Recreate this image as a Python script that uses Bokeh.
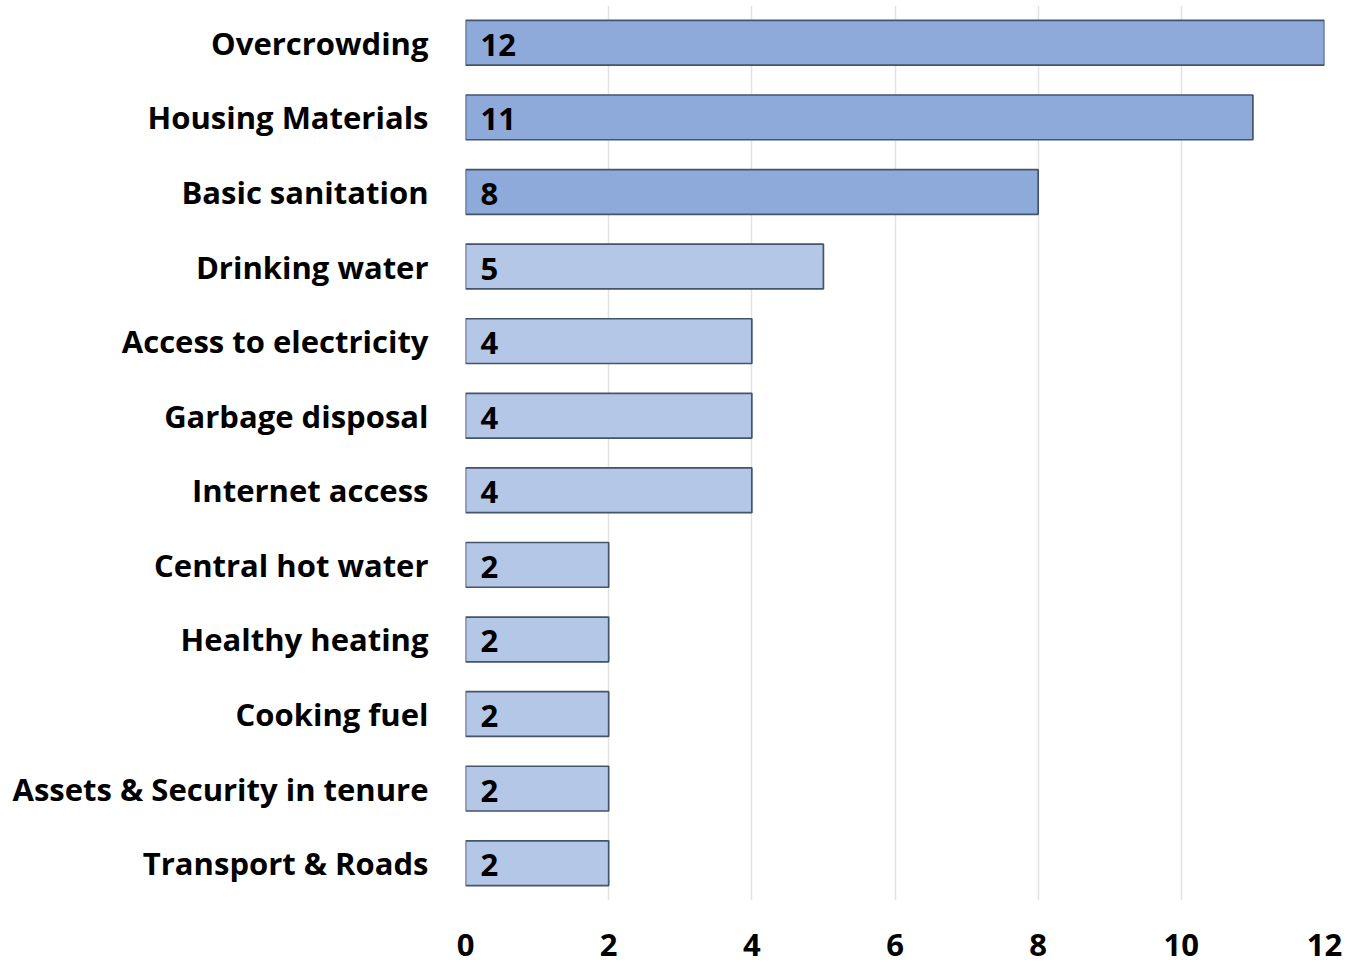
from bokeh.plotting import figure
from bokeh.models import ColumnDataSource, FactorRange, FixedTicker, Range1d
from bokeh.core.properties import value
from bokeh.embed import file_html
from bokeh.resources import INLINE

categories = ["Overcrowding", "Housing Materials", "Basic sanitation", "Drinking water",
              "Access to electricity", "Garbage disposal", "Internet access",
              "Central hot water", "Healthy heating", "Cooking fuel",
              "Assets & Security in tenure", "Transport & Roads"]
counts = [12, 11, 8, 5, 4, 4, 4, 2, 2, 2, 2, 2]
x_ticks = [0, 2, 4, 6, 8, 10, 12]

DARK = "#8eaadb"
LIGHT = "#b4c7e7"
fills = [DARK if v >= 8 else LIGHT for v in counts]

src = ColumnDataSource(dict(cat=categories, val=counts, fill=fills,
                            lbl=[str(v) for v in counts]))

FONT = "Open Sans"

p = figure(width=1347, height=965, output_backend="svg", toolbar_location=None,
           y_range=FactorRange(*reversed(categories), range_padding=0),
           x_range=Range1d(0, 12),
           min_border_left=465, min_border_right=23, min_border_top=5,
           min_border_bottom=65)
p.outline_line_color = None
p.background_fill_color = "white"

p.hbar(y="cat", right="val", left=0, height=0.6, source=src,
       fill_color="fill", line_color="#44546a", line_width=1.7)

p.text(x=0, y="cat", text="lbl", source=src, x_offset=15, y_offset=2,
       text_baseline="middle", text_align="left",
       text_font=value(FONT), text_font_style="bold", text_font_size="31px",
       text_color="black")

p.xaxis.ticker = FixedTicker(ticks=x_ticks)
p.xgrid.ticker = FixedTicker(ticks=x_ticks)
p.xgrid.grid_line_color = "#e3e3e3"
p.xgrid.grid_line_width = 1.5
p.ygrid.grid_line_color = None

for ax in (p.xaxis, p.yaxis):
    ax.axis_line_color = None
    ax.major_tick_line_color = None
    ax.minor_tick_line_color = None
    ax.major_label_text_font = FONT
    ax.major_label_text_font_style = "bold"
    ax.major_label_text_font_size = "31px"
    ax.major_label_text_color = "black"

p.xaxis.major_label_standoff = 27
p.yaxis.major_label_standoff = 31

open("out.html", "w").write(file_html(p, INLINE))
